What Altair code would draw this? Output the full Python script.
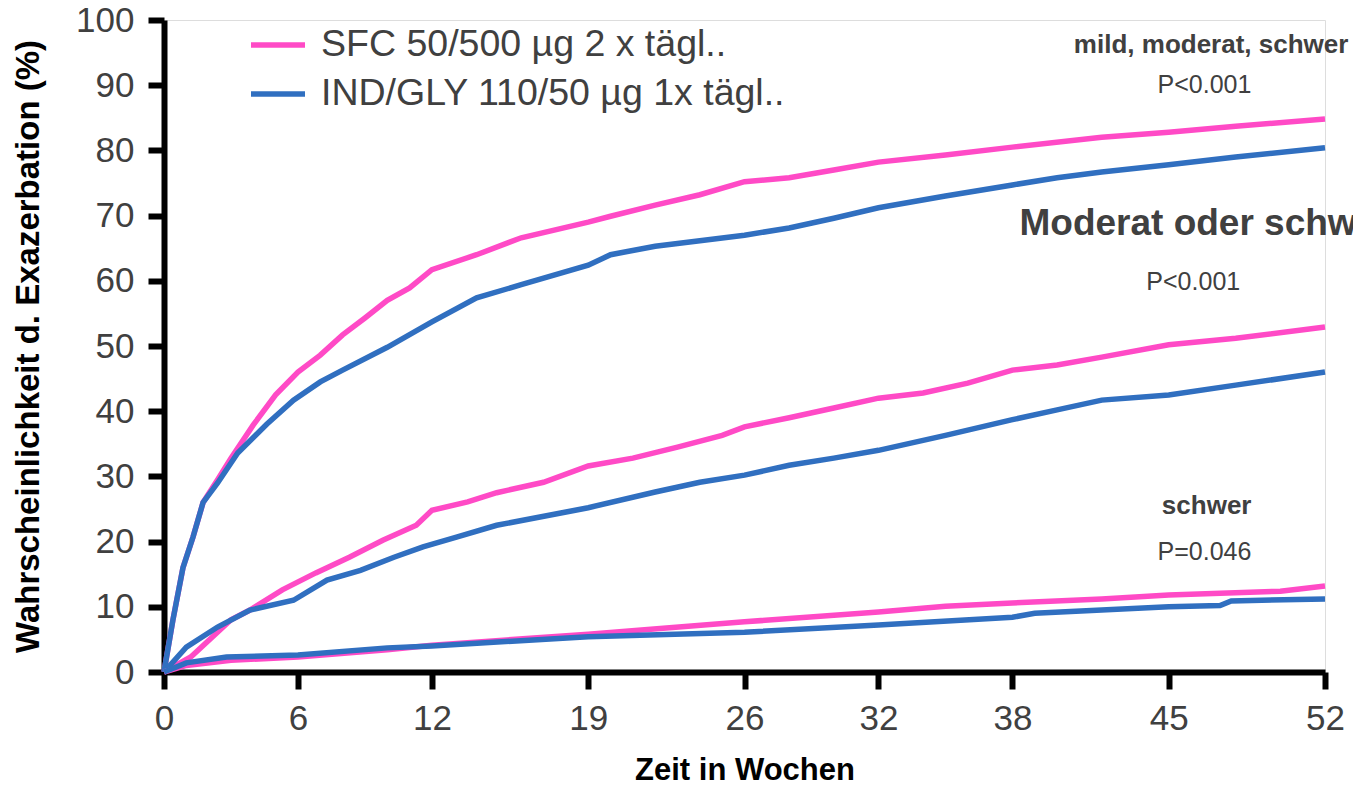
import altair as alt
import pandas as pd

SFC = "SFC 50/500 µg 2 x tägl.."
IND = "IND/GLY 110/50 µg 1x tägl.."
PINK = "#FF4AC6"
BLUE = "#306FC0"
FONT = "Liberation Sans"

# Weeks and cumulative probability (%)
all_sfc_w = [0, 0.4, 0.85, 1.3, 1.75, 2.4, 3, 4, 5, 6, 7, 8, 9, 10, 11, 12, 14, 16, 19, 20, 22, 24, 26, 28, 30, 32, 35, 38, 42, 45, 48, 52]
all_sfc_v = [0, 8, 16, 20.7, 26, 29.5, 32.8, 37.9, 42.5, 46, 48.6, 51.7, 54.3, 57, 58.9, 61.7, 64, 66.6, 69, 69.9, 71.6, 73.2, 75.2, 75.8, 77, 78.2, 79.3, 80.5, 82, 82.8, 83.7, 84.8]

all_ind_w = [0, 0.4, 0.85, 1.3, 1.75, 2.4, 3.3, 4.6, 5.8, 7, 8, 10, 12, 14, 16, 19, 20, 22, 26, 28, 30, 32, 35, 38, 40, 42, 45, 48, 52]
all_ind_v = [0, 8, 16, 20.7, 26, 29, 33.6, 38, 41.7, 44.5, 46.3, 49.8, 53.7, 57.4, 59.4, 62.4, 64, 65.3, 67, 68.1, 69.6, 71.2, 73, 74.7, 75.8, 76.7, 77.8, 79, 80.4]

mod_sfc_w = [0, 1.2, 3, 3.85, 5.3, 6.8, 8.3, 9.8, 11.3, 12, 13.6, 14.9, 17, 19, 21, 23, 25, 26, 28, 30, 32, 34, 36, 38, 40, 42, 45, 48, 52]
mod_sfc_v = [0, 2.3, 8, 9.5, 12.6, 15.2, 17.6, 20.2, 22.5, 24.8, 26.1, 27.5, 29.1, 31.6, 32.8, 34.5, 36.3, 37.6, 39, 40.5, 42, 42.8, 44.3, 46.3, 47.1, 48.3, 50.2, 51.2, 52.9]

mod_ind_w = [0, 1, 2.4, 3.85, 5.8, 7.3, 8.8, 10.3, 11.6, 13.1, 14.9, 19, 22, 24, 26, 28, 30, 32, 35, 38, 40, 42, 45, 48, 52]
mod_ind_v = [0, 3.8, 6.9, 9.5, 11, 14.1, 15.6, 17.6, 19.2, 20.7, 22.5, 25.2, 27.6, 29.1, 30.2, 31.7, 32.8, 34, 36.3, 38.7, 40.2, 41.7, 42.5, 44, 46]

sev_sfc_w = [0, 1, 3, 6, 10, 12, 19, 26, 32, 35, 38, 42, 45, 50, 52]
sev_sfc_v = [0, 1, 1.8, 2.3, 3.4, 4.1, 5.8, 7.7, 9.2, 10.1, 10.6, 11.2, 11.8, 12.4, 13.2]

sev_ind_w = [0, 1, 2.8, 6, 10, 12, 19, 26, 32, 38, 39, 45, 47.3, 47.8, 52]
sev_ind_v = [0, 1.4, 2.3, 2.6, 3.7, 4, 5.4, 6.1, 7.2, 8.4, 9, 10, 10.2, 10.9, 11.2]

x_ticks = [0, 6, 12, 19, 26, 32, 38, 45, 52]

# Annotations (text, week, %)
bold_texts = ["mild, moderat, schwer", "Moderat oder schwer", "schwer"]
bold_x = [46.9, 46.65, 46.7]
bold_y = [94.9, 67.0, 24.2]
bold_sizes = [26, 37, 26]
p_texts = ["P<0.001", "P<0.001", "P=0.046"]
p_x = [46.6, 46.1, 46.6]
p_y = [88.8, 58.6, 17.2]

rows = []
for ep, tr, ws, vs in [
    ("all", SFC, all_sfc_w, all_sfc_v),
    ("all", IND, all_ind_w, all_ind_v),
    ("mod", SFC, mod_sfc_w, mod_sfc_v),
    ("mod", IND, mod_ind_w, mod_ind_v),
    ("sev", SFC, sev_sfc_w, sev_sfc_v),
    ("sev", IND, sev_ind_w, sev_ind_v),
]:
    for i, (w, v) in enumerate(zip(ws, vs)):
        rows.append({"endpoint": ep, "treatment": tr, "week": w, "pct": v, "order": i})
df = pd.DataFrame(rows)

x_scale = alt.Scale(domain=[0, 52], nice=False, zero=False)
y_scale = alt.Scale(domain=[0, 100], nice=False)

lines = alt.Chart(df).mark_line(strokeWidth=5.5, strokeCap="butt").encode(
    x=alt.X("week:Q", scale=x_scale, axis=alt.Axis(
        values=x_ticks, title="Zeit in Wochen", grid=False,
        domainColor="black", domainWidth=6, tickColor="black", tickWidth=6, tickSize=17,
        labelFontSize=35, labelColor="#404040", labelFont=FONT, labelPadding=12,
        titleFontSize=31, titleFont=FONT, titleFontWeight="bold", titleColor="black", titlePadding=19,
        labelFlush=False)),
    y=alt.Y("pct:Q", scale=y_scale, axis=alt.Axis(
        values=list(range(0, 101, 10)), title="Wahrscheinlichkeit d. Exazerbation (%)", grid=False,
        domainColor="black", domainWidth=6, tickColor="black", tickWidth=6, tickSize=16,
        labelFontSize=35, labelColor="#404040", labelFont=FONT, labelPadding=14,
        titleFontSize=33, titleFont=FONT, titleFontWeight="bold", titleColor="black", titlePadding=30,
        labelFlush=False)),
    color=alt.Color("treatment:N", scale=alt.Scale(domain=[SFC, IND], range=[PINK, BLUE]),
                    legend=alt.Legend(orient="none", legendX=84, legendY=-5, title=None,
                                      symbolType="stroke", symbolSize=2916, symbolStrokeWidth=5.5,
                                      labelFontSize=37.5, labelColor="#404040", labelFont=FONT,
                                      labelOffset=13, rowPadding=-10, padding=0, labelLimit=0)),
    detail="endpoint:N",
    order="order:Q",
)

bold_df = pd.DataFrame({"text": bold_texts, "week": bold_x, "pct": bold_y, "size": bold_sizes})
p_df = pd.DataFrame({"text": p_texts, "week": p_x, "pct": p_y})

bold_layer = alt.Chart(bold_df).mark_text(font=FONT, fontWeight="bold", color="#404040",
                                          align="center", baseline="alphabetic").encode(
    x=alt.X("week:Q", scale=x_scale),
    y=alt.Y("pct:Q", scale=y_scale),
    text="text:N",
    size=alt.Size("size:Q", scale=None, legend=None),
)

p_layer = alt.Chart(p_df).mark_text(font=FONT, fontSize=25, color="#404040",
                                    align="center", baseline="alphabetic").encode(
    x=alt.X("week:Q", scale=x_scale),
    y=alt.Y("pct:Q", scale=y_scale),
    text="text:N",
)

chart = alt.layer(lines, bold_layer, p_layer).properties(
    width=1161, height=652,
    autosize=alt.AutoSizeParams(type="none"),
    padding={"left": 164, "top": 20, "right": 28, "bottom": 114},
).configure_view(stroke=None).configure(background="white")

chart.save("out.html", embed_options={"renderer": "svg", "actions": False})
